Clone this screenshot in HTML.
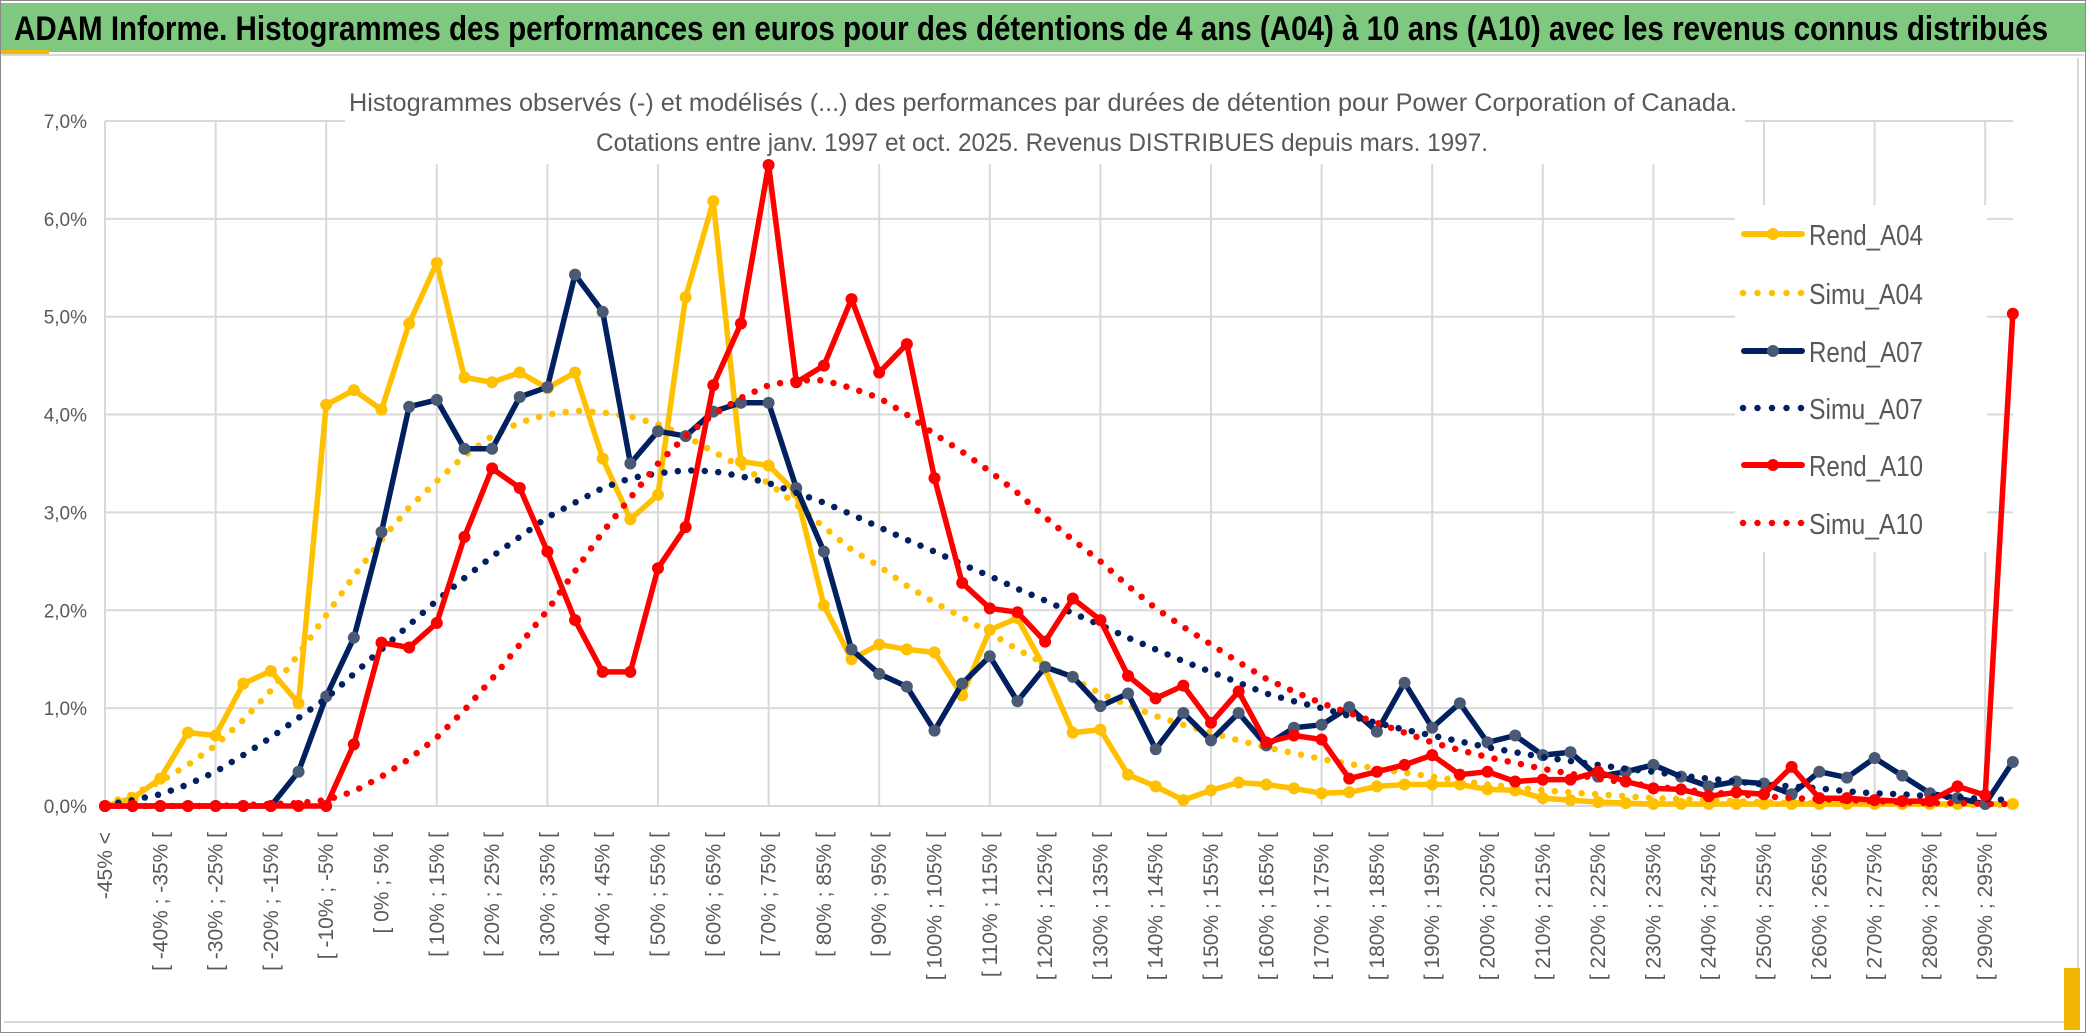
<!DOCTYPE html>
<html><head><meta charset="utf-8"><style>
html,body{margin:0;padding:0;background:#fff;}
svg{display:block;font-family:"Liberation Sans",sans-serif;}
</style></head><body>
<svg id="chart" width="2086" height="1033" viewBox="0 0 2086 1033" xmlns="http://www.w3.org/2000/svg">
<rect x="0.5" y="0.5" width="2085" height="1032" fill="#fff" stroke="#8a8a8a"/>
<rect x="1" y="3" width="2084" height="49" fill="#7ec97f"/>
<rect x="1" y="50" width="48" height="4" fill="#f2b705"/>
<line x1="2" y1="55" x2="2084" y2="55" stroke="#d9d9d9" stroke-width="2"/>
<text x="14" y="40" font-size="34" font-weight="bold" fill="#000" textLength="2034" lengthAdjust="spacingAndGlyphs">ADAM Informe. Histogrammes des performances en euros pour des détentions de 4 ans (A04) à 10 ans (A10) avec les revenus connus distribués</text>
<line x1="4" y1="1022" x2="2078" y2="1022" stroke="#d9d9d9" stroke-width="2"/>
<line x1="2078" y1="58" x2="2078" y2="1022" stroke="#d9d9d9" stroke-width="2"/>
<rect x="2064" y="968" width="16" height="62" fill="#f2b705"/>
<g id="grid"></g>
<rect x="345" y="58" width="1400" height="106" fill="#fff"/>
<text x="349" y="111" font-size="25" fill="#595959" textLength="1388" lengthAdjust="spacingAndGlyphs">Histogrammes observés (-) et modélisés (...) des performances par durées de détention pour Power Corporation of Canada.</text>
<text x="596" y="151" font-size="25" fill="#595959" textLength="892" lengthAdjust="spacingAndGlyphs">Cotations entre janv. 1997 et oct. 2025. Revenus DISTRIBUES depuis mars. 1997.</text>
<g id="yaxis"></g>
<g id="xaxis"></g>
<g id="series"></g>
<g id="legend"></g>
</svg>
<script>
const categories = ["-45% <"];
for (let i = 1; i < 70; i++) { const lo = -45 + 5 * (i - 1); categories.push("[ " + lo + "% ; " + (lo + 5) + "% ["); }
const yTicks = [0,1,2,3,4,5,6,7];
const yTickLabels = ["0,0%","1,0%","2,0%","3,0%","4,0%","5,0%","6,0%","7,0%"];
const rendA04 = [0,0.08,0.28,0.75,0.72,1.25,1.38,1.05,4.1,4.25,4.05,4.93,5.55,4.38,4.33,4.43,4.27,4.43,3.55,2.93,3.18,5.2,6.18,3.52,3.48,3.2,2.05,1.5,1.65,1.6,1.57,1.13,1.8,1.92,1.4,0.75,0.78,0.32,0.2,0.06,0.16,0.24,0.22,0.18,0.13,0.14,0.2,0.22,0.22,0.22,0.17,0.16,0.08,0.06,0.04,0.03,0.02,0.02,0.02,0.02,0.02,0.02,0.02,0.02,0.02,0.02,0.02,0.02,0.02,0.02];
const simuA04 = [0.02,0.12,0.25,0.42,0.62,0.88,1.18,1.55,1.95,2.35,2.72,3.05,3.32,3.58,3.78,3.92,4.0,4.04,4.02,3.98,3.9,3.78,3.62,3.47,3.3,3.08,2.85,2.62,2.45,2.25,2.08,1.93,1.77,1.6,1.45,1.3,1.15,1.03,0.92,0.83,0.75,0.67,0.6,0.54,0.48,0.43,0.38,0.34,0.3,0.26,0.22,0.19,0.16,0.14,0.12,0.1,0.08,0.07,0.06,0.05,0.04,0.03,0.03,0.02,0.02,0.02,0.02,0.01,0.01,0.01];
const rendA07 = [0,0,0,0,0,0,0,0.35,1.12,1.72,2.8,4.08,4.15,3.65,3.65,4.18,4.28,5.43,5.05,3.5,3.83,3.78,4.03,4.12,4.12,3.25,2.6,1.6,1.35,1.22,0.77,1.25,1.53,1.07,1.42,1.32,1.02,1.15,0.58,0.95,0.67,0.95,0.62,0.8,0.83,1.01,0.76,1.26,0.8,1.05,0.65,0.72,0.52,0.55,0.3,0.35,0.42,0.3,0.2,0.25,0.23,0.12,0.35,0.29,0.49,0.31,0.13,0.08,0.02,0.45];
const simuA07 = [0.01,0.06,0.12,0.22,0.35,0.52,0.7,0.9,1.1,1.35,1.6,1.85,2.1,2.33,2.55,2.75,2.95,3.1,3.25,3.35,3.4,3.43,3.42,3.37,3.3,3.2,3.1,2.98,2.85,2.72,2.6,2.47,2.35,2.22,2.1,1.97,1.85,1.72,1.6,1.48,1.37,1.26,1.15,1.07,1.0,0.92,0.85,0.78,0.72,0.66,0.6,0.55,0.5,0.46,0.42,0.38,0.35,0.31,0.28,0.25,0.22,0.2,0.18,0.15,0.13,0.12,0.1,0.09,0.07,0.06];
const rendA10 = [0,0,0,0,0,0,0,0,0,0.63,1.67,1.62,1.87,2.75,3.45,3.25,2.6,1.9,1.37,1.37,2.43,2.85,4.3,4.93,6.55,4.33,4.5,5.18,4.43,4.72,3.35,2.28,2.02,1.98,1.68,2.12,1.9,1.33,1.1,1.23,0.85,1.17,0.65,0.72,0.68,0.28,0.35,0.42,0.52,0.32,0.35,0.25,0.27,0.27,0.35,0.25,0.18,0.17,0.1,0.14,0.12,0.4,0.08,0.08,0.06,0.05,0.05,0.2,0.11,5.03];
const simuA10 = [0,0,0,0,0,0.01,0.02,0.03,0.06,0.15,0.3,0.48,0.7,0.98,1.3,1.65,2.0,2.4,2.8,3.15,3.5,3.78,4.0,4.17,4.3,4.35,4.35,4.27,4.17,4.0,3.8,3.62,3.42,3.2,2.95,2.72,2.5,2.25,2.02,1.83,1.65,1.47,1.3,1.17,1.05,0.95,0.85,0.75,0.65,0.57,0.5,0.44,0.38,0.33,0.28,0.24,0.2,0.17,0.14,0.12,0.1,0.08,0.07,0.06,0.05,0.04,0.03,0.03,0.02,0.02];
const seriesNames = ["Rend_A04","Simu_A04","Rend_A07","Simu_A07","Rend_A10","Simu_A10"];

const NS = "http://www.w3.org/2000/svg";
const X0 = 105, DX = 27.65, Y0 = 806, PY = 97.86, XR = 2013;
function xs(i){ return X0 + i * DX; }
function ys(v){ return Y0 - v * PY; }
function mk(tag, attrs, parent){ const e = document.createElementNS(NS, tag); for (const k in attrs) e.setAttribute(k, attrs[k]); parent.appendChild(e); return e; }

const grid = document.getElementById('grid');
yTicks.forEach(function(t){
  const l = mk('line', {x1:X0, x2:XR, y1:ys(t), y2:ys(t), stroke:'#d9d9d9', 'stroke-width':2}, grid);
  
  
});
for (let i = 0; i < categories.length; i += 4) {
  const l = mk('line', {x1:xs(i), x2:xs(i), y1:ys(7), y2:Y0, stroke:'#d9d9d9', 'stroke-width':2}, grid);
  
  
}
const yaxis = document.getElementById('yaxis');
yTicks.forEach(function(t, k){
  const tx = mk('text', {x:87, y:ys(t)+7, 'text-anchor':'end', 'font-size':19, fill:'#595959'}, yaxis);
  tx.textContent = yTickLabels[k];
  
  
});
const xaxis = document.getElementById('xaxis');
for (let i = 0; i < categories.length; i += 2) {
  const x = xs(i) + 7, y = 832;
  const tx = mk('text', {x:x, y:y, 'text-anchor':'end', 'font-size':21, fill:'#595959', transform:'rotate(-90 ' + x + ' ' + y + ')'}, xaxis);
  tx.textContent = categories[i];
  
  
}

const sg = document.getElementById('series');
function drawObs(vals, color, mcolor, name){
  const g = mk('g', {}, sg);
  
  
  const pts = vals.map(function(v,i){ return xs(i).toFixed(1) + ',' + ys(v).toFixed(1); }).join(' ');
  const pl = mk('polyline', {points:pts, fill:'none', stroke:color, 'stroke-width':5.5, 'stroke-linejoin':'round'}, g);
  
  
  vals.forEach(function(v,i){
    const c = mk('circle', {cx:xs(i), cy:ys(v), r:6, fill:mcolor}, g);
    
    
  });
}
function drawSim(vals, color, name){
  const pts = vals.map(function(v,i){ return xs(i).toFixed(1) + ',' + ys(v).toFixed(1); }).join(' ');
  const pl = mk('polyline', {points:pts, fill:'none', stroke:color, 'stroke-width':6.5, 'stroke-linecap':'round', 'stroke-dasharray':'0 13.5'}, sg);
  
  
}
drawObs(rendA04, '#ffc000', '#ffc000', 'rend-a04');
drawSim(simuA04, '#ffc000', 'simu-a04');
drawObs(rendA07, '#002060', '#4b5a74', 'rend-a07');
drawSim(simuA07, '#002060', 'simu-a07');
drawObs(rendA10, '#ff0000', '#ff0000', 'rend-a10');
drawSim(simuA10, '#ff0000', 'simu-a10');

const lg = document.getElementById('legend');
const lbox = mk('rect', {x:1735, y:205, width:252, height:347, fill:'#fff'}, lg);


const lcolors = ['#ffc000','#ffc000','#002060','#002060','#ff0000','#ff0000'];
const lmark = ['#ffc000',null,'#4b5a74',null,'#ff0000',null];
const lys = [234,293,351,408,465,523];
seriesNames.forEach(function(n, k){
  const y = lys[k];
  const e = mk('g', {}, lg);
  
  
  if (lmark[k]) {
    mk('line', {x1:1744, x2:1802, y1:y, y2:y, stroke:lcolors[k], 'stroke-width':6, 'stroke-linecap':'round'}, e);
    mk('circle', {cx:1773, cy:y, r:6, fill:lmark[k]}, e);
  } else {
    mk('line', {x1:1743, x2:1803, y1:y, y2:y, stroke:lcolors[k], 'stroke-width':6.5, 'stroke-linecap':'round', 'stroke-dasharray':'0 14.5'}, e);
  }
  const t = mk('text', {x:1809, y:y+11, 'font-size':29, fill:'#595959', textLength:114, lengthAdjust:'spacingAndGlyphs'}, e);
  t.textContent = n;
});
</script>
</body></html>
